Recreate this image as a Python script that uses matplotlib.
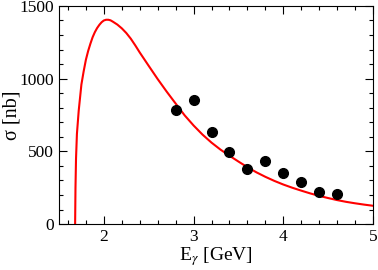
import matplotlib
matplotlib.use("Agg")
import matplotlib.pyplot as plt
from matplotlib.ticker import MultipleLocator, FixedLocator

plt.rcParams['font.family'] = ['Liberation Serif', 'DejaVu Serif']
plt.rcParams['mathtext.fontset'] = 'stix'

# theory curve
curve_e = [1.68, 1.684, 1.69, 1.70, 1.72, 1.75, 1.775, 1.80, 1.825, 1.85, 1.875,
           1.90, 1.925, 1.95, 1.975, 2.00, 2.025, 2.05, 2.075, 2.10, 2.15, 2.20,
           2.25, 2.30, 2.35, 2.40, 2.50, 2.60, 2.70, 2.80, 2.90, 3.00, 3.10, 3.20,
           3.30, 3.40, 3.50, 3.60, 3.70, 3.80, 3.90, 4.00, 4.10, 4.20, 4.30, 4.40,
           4.50, 4.60, 4.70, 4.80, 4.90, 5.00]
curve_sigma = [0, 250, 450, 620, 780, 960, 1050, 1130, 1190, 1240, 1285,
               1320, 1348, 1370, 1388, 1400, 1405, 1405, 1401, 1392, 1372, 1346,
               1314, 1275, 1229, 1180, 1088, 997, 911, 829, 748, 678, 615, 560,
               512, 470, 430, 391, 356, 325, 297, 272, 250, 230, 211, 194,
               179, 165, 153, 143, 134, 126]

# data points
data_e = [2.8, 3.0, 3.2, 3.4, 3.6, 3.8, 4.0, 4.2, 4.4, 4.6]
data_sigma = [785, 850, 636, 495, 377, 432, 350, 292, 218, 209]

fig = plt.figure(figsize=(3.78, 2.70), dpi=100)
ax = fig.add_axes([0.156, 0.170, 0.831, 0.808])

ax.plot(curve_e, curve_sigma, color='red', lw=1.5, zorder=2)
ax.plot(data_e, data_sigma, 'o', color='black', ms=7, zorder=3)

ax.set_xlim(1.5, 5)
ax.set_ylim(0, 1500)
ax.xaxis.set_major_locator(FixedLocator([2, 3, 4, 5]))
ax.xaxis.set_minor_locator(MultipleLocator(0.2))
ax.yaxis.set_major_locator(MultipleLocator(500))
ax.yaxis.set_minor_locator(MultipleLocator(100))

ax.tick_params(which='both', direction='in', top=True, right=True, labelsize=12.5, width=0.8)
ax.tick_params(which='major', length=6)
ax.tick_params(which='minor', length=3)
for s in ax.spines.values():
    s.set_linewidth(0.8)

ax.set_xlabel(r'E$_\gamma$ [GeV]', fontsize=14, labelpad=0)
ax.set_ylabel('σ [nb]', fontsize=14.5)
ax.yaxis.set_label_coords(-0.12, 0.5)

fig.savefig('out.png', dpi=100)
